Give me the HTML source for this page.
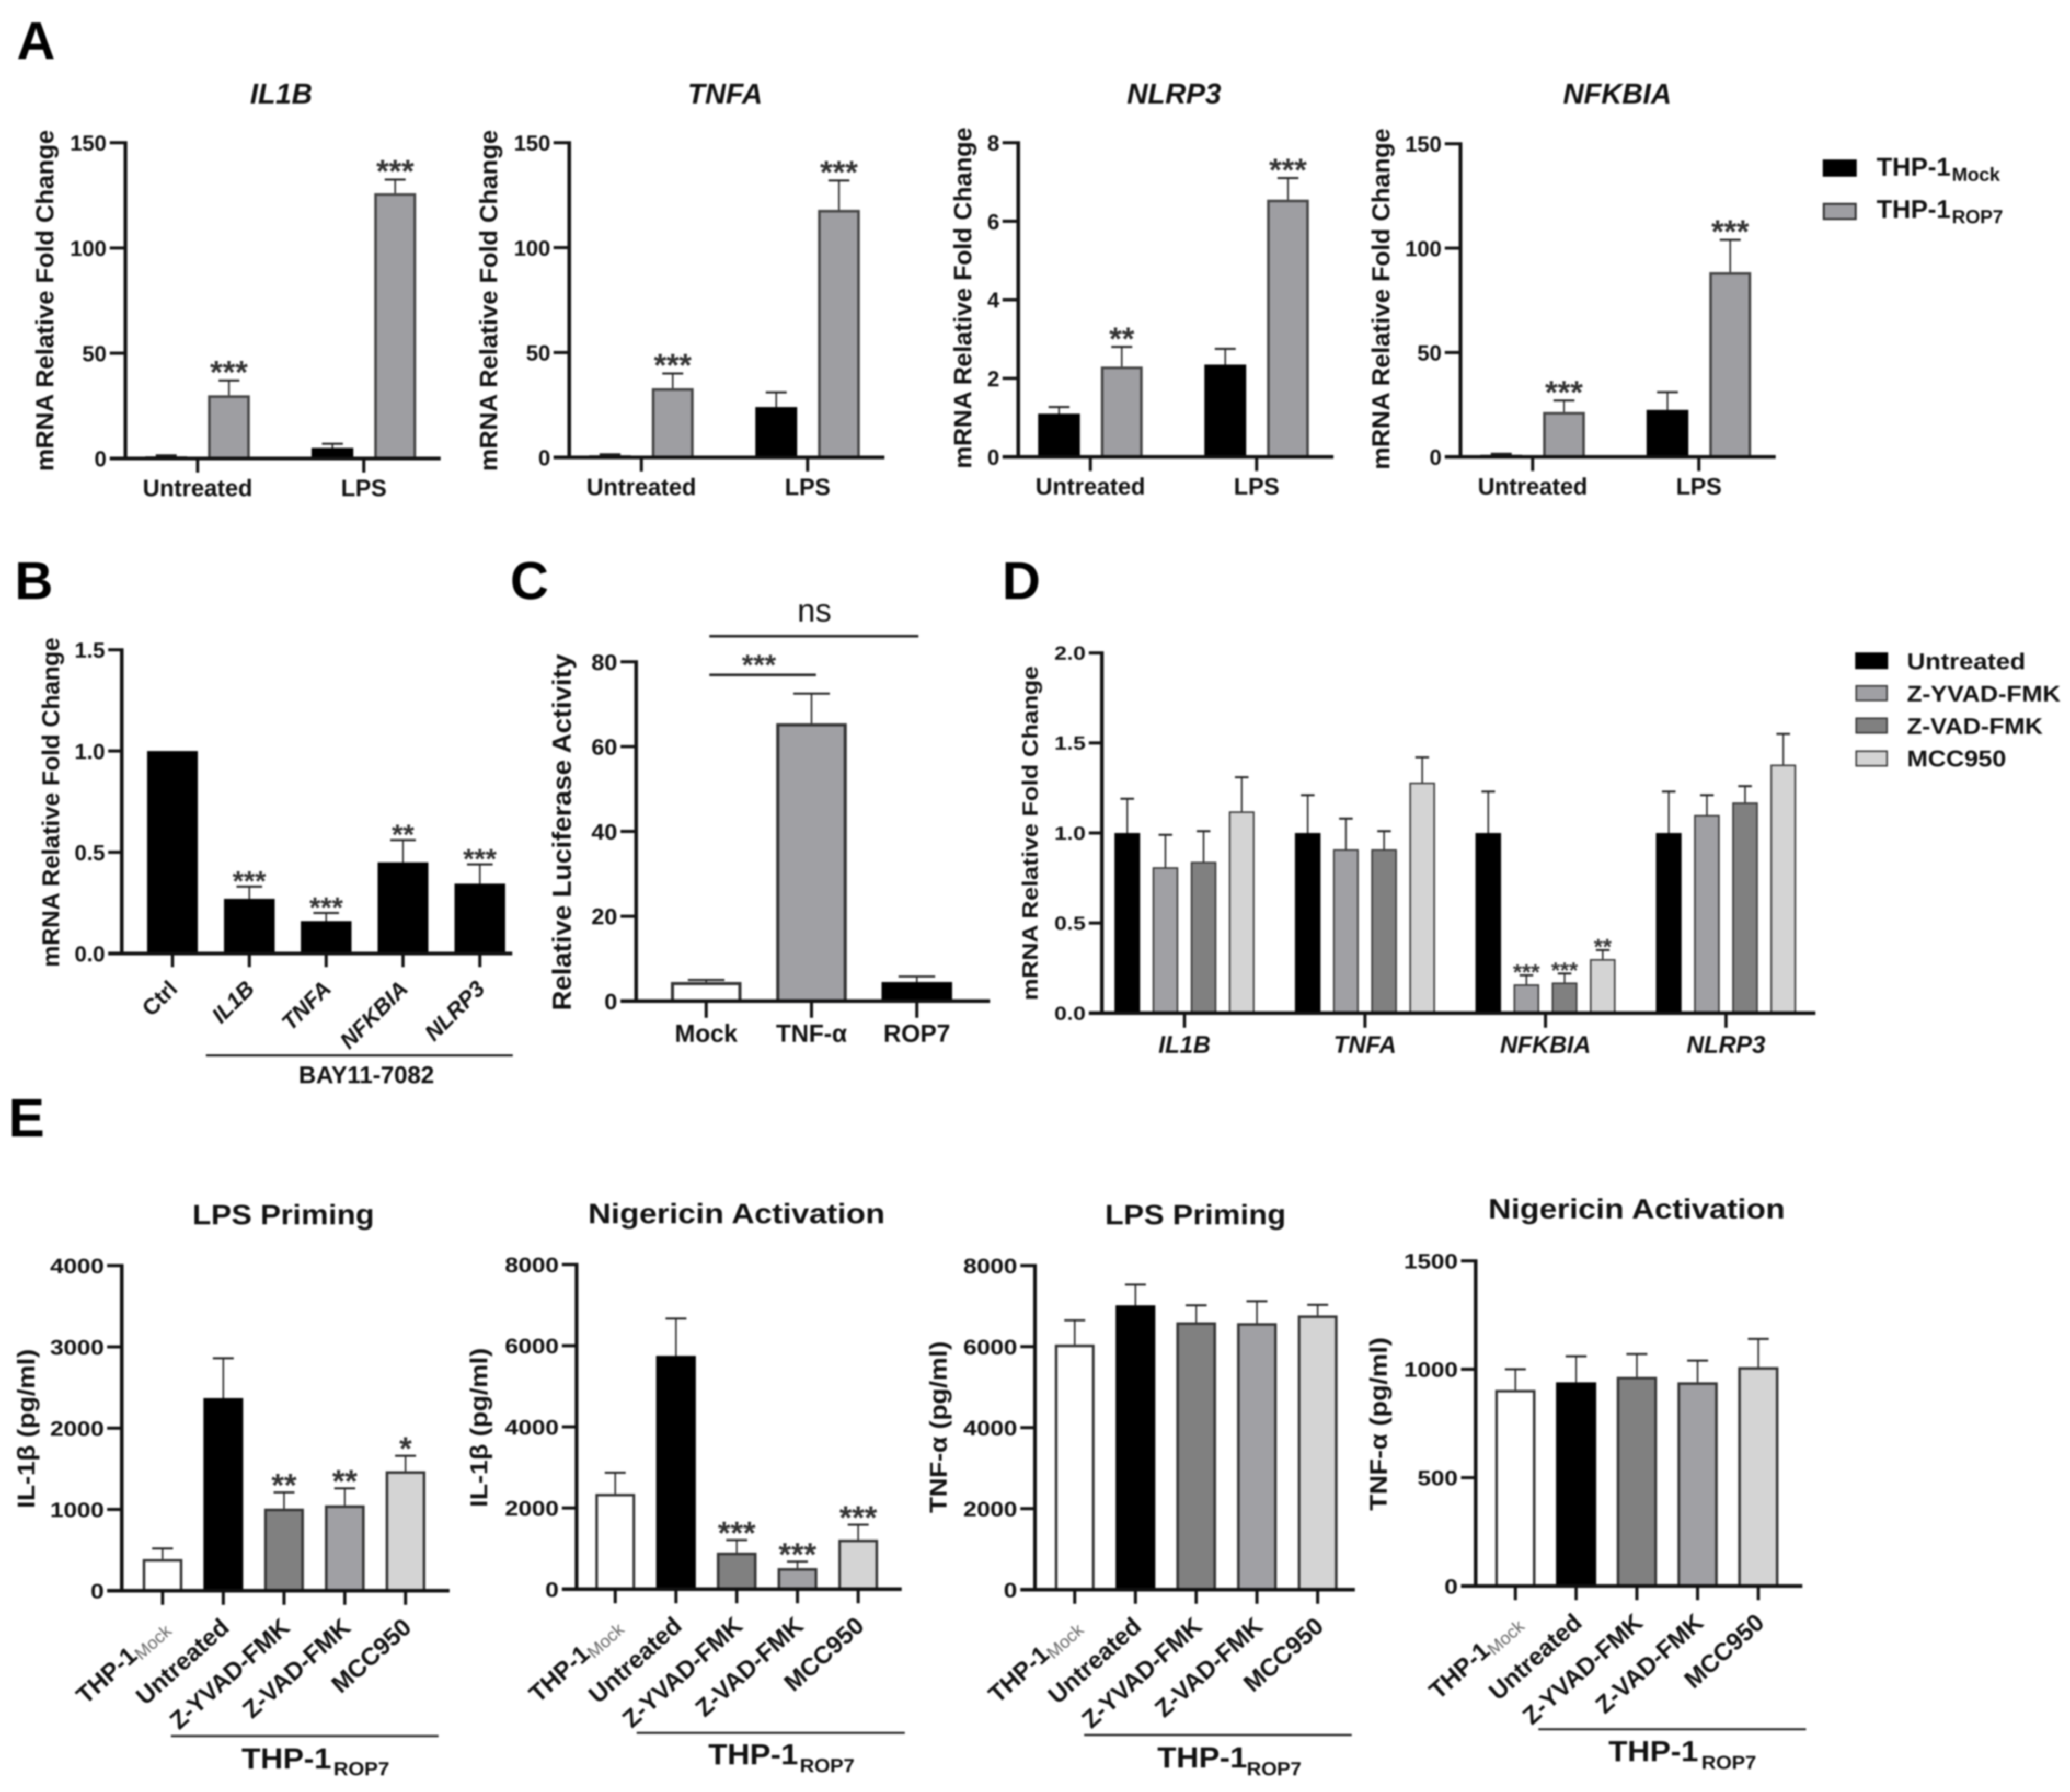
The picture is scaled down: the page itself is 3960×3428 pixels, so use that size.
<!DOCTYPE html>
<html lang="en">
<head>
<meta charset="utf-8">
<title>Panel figure: mRNA fold change, luciferase activity and cytokine levels</title>
<style>
html,body{margin:0;padding:0;background:#fff;width:3960px;height:3428px;overflow:hidden}
svg{display:block;filter:blur(1.5px)}
text{font-family:"Liberation Sans","DejaVu Sans",sans-serif;font-weight:bold;fill:#111}
</style>
</head>
<body>
<svg id="figure" xmlns="http://www.w3.org/2000/svg" width="3960" height="3428" viewBox="0 0 3960 3428">
<rect width="3960" height="3428" fill="#fff"/>

<text x="32" y="113" font-size="102" style="fill:#000">A</text>
<text x="28" y="1146" font-size="102" style="fill:#000">B</text>
<text x="976" y="1146" font-size="102" style="fill:#000">C</text>
<text x="1917" y="1146" font-size="102" style="fill:#000">D</text>
<text x="16" y="2174" font-size="104" style="fill:#000">E</text>

<text x="538" y="198" font-size="55" font-style="italic" text-anchor="middle">IL1B</text>
<text x="1387" y="198" font-size="55" font-style="italic" text-anchor="middle">TNFA</text>
<text x="2246" y="198" font-size="55" font-style="italic" text-anchor="middle">NLRP3</text>
<text x="3094" y="198" font-size="55" font-style="italic" text-anchor="middle">NFKBIA</text>

<text transform="translate(102,575) rotate(-90)" font-size="47" text-anchor="middle" textLength="653" lengthAdjust="spacingAndGlyphs">mRNA Relative Fold Change</text>
<text transform="translate(951,575) rotate(-90)" font-size="47" text-anchor="middle" textLength="653" lengthAdjust="spacingAndGlyphs">mRNA Relative Fold Change</text>
<text transform="translate(1858,570) rotate(-90)" font-size="47" text-anchor="middle" textLength="653" lengthAdjust="spacingAndGlyphs">mRNA Relative Fold Change</text>
<text transform="translate(2658,572) rotate(-90)" font-size="47" text-anchor="middle" textLength="653" lengthAdjust="spacingAndGlyphs">mRNA Relative Fold Change</text>

<g>
  <rect x="3487" y="305" width="65" height="33" fill="#000"/>
  <text x="3590" y="336" font-size="49">THP-1</text>
  <text x="3734" y="346" font-size="36">Mock</text>
  <rect x="3489" y="390" width="61" height="29" fill="#9e9ea2" stroke="#333" stroke-width="4"/>
  <text x="3590" y="417" font-size="49">THP-1</text>
  <text x="3734" y="427" font-size="36">ROP7</text>
</g>

<text transform="translate(113,1535) rotate(-90)" font-size="46" text-anchor="middle" textLength="631" lengthAdjust="spacingAndGlyphs">mRNA Relative Fold Change</text>
<line x1="394" x2="981" y1="2019" y2="2019" stroke="#111" stroke-width="4"/>
<text x="701" y="2072" font-size="46" text-anchor="middle">BAY11-7082</text>

<text transform="translate(1092,1592) rotate(-90)" font-size="50" text-anchor="middle" textLength="682" lengthAdjust="spacingAndGlyphs">Relative Luciferase Activity</text>
<text x="1558" y="1189" font-size="62" text-anchor="middle" style="font-weight:normal">ns</text>
<line x1="1357" x2="1757" y1="1217" y2="1217" stroke="#222" stroke-width="5"/>
<text x="1452" y="1291" font-size="56" text-anchor="middle" style="fill:#333">***</text>
<line x1="1357" x2="1561" y1="1291" y2="1291" stroke="#222" stroke-width="5"/>

<text transform="translate(1985,1594) rotate(-90)" font-size="42" text-anchor="middle" textLength="640" lengthAdjust="spacingAndGlyphs">mRNA Relative Fold Change</text>
<g>
  <rect x="3549" y="1248" width="63" height="32" fill="#000"/>
  <text x="3648" y="1280" font-size="44" textLength="227" lengthAdjust="spacingAndGlyphs">Untreated</text>
  <rect x="3551" y="1312" width="59" height="28" fill="#a0a0a4" stroke="#333" stroke-width="3"/>
  <text x="3648" y="1342" font-size="44" textLength="294" lengthAdjust="spacingAndGlyphs">Z-YVAD-FMK</text>
  <rect x="3551" y="1374" width="59" height="28" fill="#808080" stroke="#333" stroke-width="3"/>
  <text x="3648" y="1404" font-size="44" textLength="260" lengthAdjust="spacingAndGlyphs">Z-VAD-FMK</text>
  <rect x="3551" y="1437" width="59" height="28" fill="#d4d4d4" stroke="#333" stroke-width="3"/>
  <text x="3648" y="1466" font-size="44" textLength="190" lengthAdjust="spacingAndGlyphs">MCC950</text>
</g>

<text x="542" y="2342" font-size="54" text-anchor="middle" textLength="348" lengthAdjust="spacingAndGlyphs">LPS Priming</text>
<text x="1409" y="2340" font-size="54" text-anchor="middle" textLength="568" lengthAdjust="spacingAndGlyphs">Nigericin Activation</text>
<text x="2287" y="2342" font-size="54" text-anchor="middle" textLength="346" lengthAdjust="spacingAndGlyphs">LPS Priming</text>
<text x="3131" y="2331" font-size="54" text-anchor="middle" textLength="568" lengthAdjust="spacingAndGlyphs">Nigericin Activation</text>

<text transform="translate(66,2733) rotate(-90)" font-size="46" text-anchor="middle" textLength="305" lengthAdjust="spacingAndGlyphs">IL-1β (pg/ml)</text>
<text transform="translate(932,2731) rotate(-90)" font-size="46" text-anchor="middle" textLength="305" lengthAdjust="spacingAndGlyphs">IL-1β (pg/ml)</text>
<text transform="translate(1811,2730) rotate(-90)" font-size="46" text-anchor="middle" textLength="329" lengthAdjust="spacingAndGlyphs">TNF-α (pg/ml)</text>
<text transform="translate(2653,2724) rotate(-90)" font-size="46" text-anchor="middle" textLength="332" lengthAdjust="spacingAndGlyphs">TNF-α (pg/ml)</text>

<g>
  <line x1="327" x2="839" y1="3321" y2="3321" stroke="#222" stroke-width="4"/>
  <text x="462" y="3383" font-size="56" textLength="172" lengthAdjust="spacingAndGlyphs">THP-1</text>
  <text x="638" y="3396" font-size="36" textLength="107" lengthAdjust="spacingAndGlyphs">ROP7</text>
</g>
<g>
  <line x1="1218" x2="1731" y1="3315" y2="3315" stroke="#222" stroke-width="4"/>
  <text x="1355" y="3375" font-size="56" textLength="172" lengthAdjust="spacingAndGlyphs">THP-1</text>
  <text x="1530" y="3390" font-size="36" textLength="105" lengthAdjust="spacingAndGlyphs">ROP7</text>
</g>
<g>
  <line x1="2074" x2="2586" y1="3319" y2="3319" stroke="#222" stroke-width="4"/>
  <text x="2214" y="3381" font-size="56" textLength="172" lengthAdjust="spacingAndGlyphs">THP-1</text>
  <text x="2385" y="3396" font-size="36" textLength="105" lengthAdjust="spacingAndGlyphs">ROP7</text>
</g>
<g>
  <line x1="2943" x2="3455" y1="3308" y2="3308" stroke="#222" stroke-width="4"/>
  <text x="3077" y="3369" font-size="56" textLength="172" lengthAdjust="spacingAndGlyphs">THP-1</text>
  <text x="3255" y="3384" font-size="36" textLength="105" lengthAdjust="spacingAndGlyphs">ROP7</text>
</g>
</svg>

<script>
// ---- Panel A data ----
const aCategories = ['Untreated', 'LPS'];
const il1bTicks = ['0', '50', '100', '150'];
const il1bMock = [1, 5];
const il1bMockErr = [1.5, 7];
const il1bRop7 = [30, 126];
const il1bRop7Err = [37, 132.5];
const il1bStars = ['***', '***'];
const tnfaTicks = ['0', '50', '100', '150'];
const tnfaMock = [1, 24];
const tnfaMockErr = [1.5, 31];
const tnfaRop7 = [33, 118];
const tnfaRop7Err = [40, 132];
const tnfaStars = ['***', '***'];
const nlrp3Ticks = ['0', '2', '4', '6', '8'];
const nlrp3Mock = [1.1, 2.35];
const nlrp3MockErr = [1.27, 2.75];
const nlrp3Rop7 = [2.3, 6.55];
const nlrp3Rop7Err = [2.8, 7.1];
const nlrp3Stars = ['**', '***'];
const nfkbiaTicks = ['0', '50', '100', '150'];
const nfkbiaMock = [1, 22.5];
const nfkbiaMockErr = [1.5, 31];
const nfkbiaRop7 = [21.5, 88.5];
const nfkbiaRop7Err = [27, 104];
const nfkbiaStars = ['***', '***'];

// ---- Panel B data ----
const bCategories = ['Ctrl', 'IL1B', 'TNFA', 'NFKBIA', 'NLRP3'];
const bItalic = [false, true, true, true, true];
const bTicks = ['0.0', '0.5', '1.0', '1.5'];
const bValues = [1, 0.27, 0.16, 0.45, 0.345];
const bErr = [null, 0.33, 0.2, 0.56, 0.44];
const bStars = ['', '***', '***', '**', '***'];

// ---- Panel C data ----
const cCategories = ['Mock', 'TNF-α', 'ROP7'];
const cTicks = ['0', '20', '40', '60', '80'];
const cValues = [4.5, 65.5, 4.5];
const cErr = [5, 72.5, 5.8];

// ---- Panel D data ----
const dCategories = ['IL1B', 'TNFA', 'NFKBIA', 'NLRP3'];
const dTicks = ['0.0', '0.5', '1.0', '1.5', '2.0'];
const dUntreated = [1, 1, 1, 1];
const dUntreatedErr = [1.19, 1.21, 1.23, 1.23];
const dZyvad = [0.81, 0.91, 0.16, 1.1];
const dZyvadErr = [0.99, 1.08, 0.21, 1.21];
const dZvad = [0.84, 0.91, 0.17, 1.17];
const dZvadErr = [1.01, 1.01, 0.22, 1.26];
const dMcc = [1.12, 1.28, 0.3, 1.38];
const dMccErr = [1.31, 1.42, 0.35, 1.55];
const dZyvadStars = ['', '', '***', ''];
const dZvadStars = ['', '', '***', ''];
const dMccStars = ['', '', '**', ''];

// ---- Panel E data ----
const eCategories = ['THP-1|Mock', 'Untreated', 'Z-YVAD-FMK', 'Z-VAD-FMK', 'MCC950'];
const e1Ticks = ['0', '1000', '2000', '3000', '4000'];
const e1Values = [390, 2370, 1010, 1050, 1470];
const e1Err = [520, 2860, 1210, 1260, 1660];
const e1Stars = ['', '', '**', '**', '*'];
const e2Ticks = ['0', '2000', '4000', '6000', '8000'];
const e2Values = [2350, 5750, 900, 520, 1220];
const e2Err = [2870, 6670, 1210, 680, 1590];
const e2Stars = ['', '', '***', '***', '***'];
const e3Ticks = ['0', '2000', '4000', '6000', '8000'];
const e3Values = [6050, 7020, 6600, 6580, 6770];
const e3Err = [6650, 7530, 7020, 7120, 7030];
const e4Ticks = ['0', '500', '1000', '1500'];
const e4Values = [905, 940, 965, 940, 1010];
const e4Err = [1000, 1060, 1070, 1040, 1140];

// ---- Drawing ----
const SVG_NS = 'http://www.w3.org/2000/svg';
const root = document.getElementById('figure');

function make(parent, tag, attrs) {
  const node = document.createElementNS(SVG_NS, tag);
  for (const k in attrs) node.setAttribute(k, attrs[k]);
  parent.appendChild(node);
  return node;
}

function drawChart(id, cfg) {
  const g = make(root, 'g', {});
  
  

  const maxV = Number(cfg.ticks[cfg.ticks.length - 1]);
  const yScale = v => cfg.y0 - (v / maxV) * (cfg.y0 - cfg.yTop);
  const xScale = i => cfg.x0 + i * cfg.step;
  const count = cfg.series.length;

  // bars, error bars and significance marks
  cfg.series.forEach((s, j) => {
    const offset = (j - (count - 1) / 2) * (cfg.barGap || 0);
    s.values.forEach((v, i) => {
      const cx = xScale(i) + offset;
      const sw = cfg.barStroke;
      const fill = s.fills ? s.fills[i] : s.fill;
      const top = yScale(v);
      if (s.err && s.err[i] !== null) {
        const ey = yScale(s.err[i]);
        const ebar = make(g, 'line', {x1: cx, x2: cx, y1: top, y2: ey, stroke: '#222', 'stroke-width': cfg.errStroke});
        
        
        const cap = make(g, 'line', {x1: cx - cfg.capW / 2, x2: cx + cfg.capW / 2, y1: ey, y2: ey, stroke: '#222', 'stroke-width': cfg.errStroke + 1});
        
        
      }
      const bar = make(g, 'rect', {
        x: cx - cfg.barW / 2 + sw / 2,
        y: top + sw / 2,
        width: cfg.barW - sw,
        height: Math.max(0, cfg.y0 - top - sw / 2),
        fill: fill,
        stroke: fill === '#000' ? '#000' : cfg.barEdge,
        'stroke-width': sw
      });
      
      
      if (s.stars && s.stars[i]) {
        const anchorV = s.err && s.err[i] !== null ? s.err[i] : v;
        const star = make(g, 'text', {
          x: cx, y: yScale(anchorV) - cfg.starGap + 0.56 * cfg.starFs,
          'font-size': cfg.starFs, 'text-anchor': 'middle', style: 'fill:#333'
        });
        star.textContent = s.stars[i];
        
        
      }
    });
  });

  // y axis
  const yAxis = make(g, 'line', {x1: cfg.axisX, x2: cfg.axisX, y1: cfg.yTop - 3, y2: cfg.y0 + 3, stroke: '#111', 'stroke-width': cfg.axisW});
  
  
  cfg.ticks.forEach(t => {
    const yy = yScale(Number(t));
    const tm = make(g, 'line', {x1: cfg.axisX - cfg.tickLen, x2: cfg.axisX, y1: yy, y2: yy, stroke: '#111', 'stroke-width': cfg.axisW - 1});
    
    
    const lab = make(g, 'text', {
      x: cfg.axisX - cfg.tickLen - 6, y: yy + 0.36 * cfg.tickFs,
      'font-size': cfg.tickFs, 'text-anchor': 'end',
      textLength: t.replace('.', '').length * 0.556 * cfg.tickFs * cfg.tickStretch + (t.includes('.') ? 0.278 * cfg.tickFs * cfg.tickStretch : 0),
      lengthAdjust: 'spacingAndGlyphs'
    });
    lab.textContent = t;
    
    
  });

  // x axis
  const xAxis = make(g, 'line', {x1: cfg.axisX - cfg.tickLen, x2: cfg.xEnd, y1: cfg.y0, y2: cfg.y0, stroke: '#111', 'stroke-width': cfg.axisW});
  
  
  cfg.categories.forEach((c, i) => {
    const xx = xScale(i);
    const tm = make(g, 'line', {x1: xx, x2: xx, y1: cfg.y0, y2: cfg.y0 + cfg.xTickLen, stroke: '#111', 'stroke-width': cfg.axisW - 1});
    
    
    const parts = c.split('|');
    const attrs = {'font-size': cfg.labelFs, 'text-anchor': cfg.rotate ? 'end' : 'middle'};
    if (cfg.italic && cfg.italic[i]) attrs['font-style'] = 'italic';
    if (cfg.rotate) {
      attrs.transform = 'translate(' + (xx + cfg.rotate.dx) + ',' + (cfg.y0 + cfg.rotate.dy) + ') rotate(' + cfg.rotate.angle + ')';
    } else {
      attrs.x = xx;
      attrs.y = cfg.y0 + cfg.labelDy;
    }
    const lab = make(g, 'text', attrs);
    
    
    lab.appendChild(document.createTextNode(parts[0]));
    if (parts[1]) {
      const sub = make(lab, 'tspan', {dy: 8, 'font-size': cfg.labelFs * 0.72, style: 'font-weight:normal;fill:#666'});
      sub.textContent = parts[1];
    }
  });
}

const panelA = {
  categories: aCategories, step: 318, barW: 80, barGap: 120, barStroke: 5, barEdge: '#444',
  capW: 40, errStroke: 3, starGap: 29, starFs: 62, axisW: 7, tickLen: 30, tickFs: 42, tickStretch: 1,
  xTickLen: 27, labelFs: 45, labelDy: 72
};
function seriesA(mock, mockErr, rop, ropErr, stars) {
  return [
    {values: mock, err: mockErr, fill: '#000'},
    {values: rop, err: ropErr, fill: '#9e9ea2', stars: stars}
  ];
}
drawChart('il1b', Object.assign({}, panelA, {ticks: il1bTicks, axisX: 240, yTop: 273, y0: 877, x0: 378, xEnd: 843,
  series: seriesA(il1bMock, il1bMockErr, il1bRop7, il1bRop7Err, il1bStars)}));
drawChart('tnfa', Object.assign({}, panelA, {ticks: tnfaTicks, axisX: 1089, yTop: 273, y0: 875, x0: 1227, xEnd: 1692,
  series: seriesA(tnfaMock, tnfaMockErr, tnfaRop7, tnfaRop7Err, tnfaStars)}));
drawChart('nlrp3', Object.assign({}, panelA, {ticks: nlrp3Ticks, axisX: 1948, yTop: 273, y0: 874, x0: 2086, xEnd: 2551,
  series: seriesA(nlrp3Mock, nlrp3MockErr, nlrp3Rop7, nlrp3Rop7Err, nlrp3Stars)}));
drawChart('nfkbia', Object.assign({}, panelA, {ticks: nfkbiaTicks, axisX: 2794, yTop: 275, y0: 874, x0: 2932, xEnd: 3397,
  series: seriesA(nfkbiaMock, nfkbiaMockErr, nfkbiaRop7, nfkbiaRop7Err, nfkbiaStars)}));

drawChart('b', {
  categories: bCategories, italic: bItalic, ticks: bTicks, axisX: 233, yTop: 1243, y0: 1824, x0: 330, step: 147, xEnd: 980,
  barW: 97, barStroke: 3, barEdge: '#000', capW: 49, errStroke: 3, starGap: 23, starFs: 55,
  axisW: 7, tickLen: 26, tickFs: 42, tickStretch: 1, xTickLen: 26, labelFs: 43,
  rotate: {dx: 12, dy: 70, angle: -45},
  series: [{values: bValues, err: bErr, fill: '#000', stars: bStars}]
});

drawChart('c', {
  categories: cCategories, ticks: cTicks, axisX: 1217, yTop: 1266, y0: 1915, x0: 1351, step: 201.5, xEnd: 1894,
  barW: 135, barStroke: 6, barEdge: '#333', capW: 70, errStroke: 3, starGap: 25, starFs: 56,
  axisW: 7, tickLen: 30, tickFs: 43, tickStretch: 1.04, xTickLen: 32, labelFs: 47, labelDy: 78,
  series: [{values: cValues, err: cErr, fills: ['#fff', '#a0a0a4', '#000']}]
});

drawChart('d', {
  categories: dCategories, italic: [true, true, true, true], ticks: dTicks, axisX: 2108, yTop: 1249, y0: 1938,
  x0: 2266, step: 345.3, xEnd: 3473, barW: 49, barGap: 73, barStroke: 3, barEdge: '#333',
  capW: 26, errStroke: 3, starGap: 16, starFs: 44, axisW: 7, tickLen: 25, tickFs: 36, tickStretch: 1.2,
  xTickLen: 28, labelFs: 46, labelDy: 76,
  series: [
    {values: dUntreated, err: dUntreatedErr, fill: '#000'},
    {values: dZyvad, err: dZyvadErr, fill: '#a0a0a4', stars: dZyvadStars},
    {values: dZvad, err: dZvadErr, fill: '#808080', stars: dZvadStars},
    {values: dMcc, err: dMccErr, fill: '#d4d4d4', stars: dMccStars}
  ]
});

const panelE = {
  categories: eCategories, step: 116.2, barStroke: 5, barEdge: '#333', capW: 40, errStroke: 3,
  starGap: 27, starFs: 62, axisW: 7, tickLen: 28, tickFs: 40, tickStretch: 1.16, xTickLen: 27,
  labelFs: 47, rotate: {dx: 14, dy: 74, angle: -42}
};
const eFills = ['#fff', '#000', '#808080', '#a0a0a4', '#d4d4d4'];
drawChart('e1', Object.assign({}, panelE, {ticks: e1Ticks, axisX: 233, yTop: 2421, y0: 3043, x0: 311, xEnd: 860, barW: 76,
  series: [{values: e1Values, err: e1Err, fills: eFills, stars: e1Stars}]}));
drawChart('e2', Object.assign({}, panelE, {ticks: e2Ticks, axisX: 1103, yTop: 2419, y0: 3040, x0: 1177, xEnd: 1725, barW: 76,
  series: [{values: e2Values, err: e2Err, fills: eFills, stars: e2Stars}]}));
drawChart('e3', Object.assign({}, panelE, {ticks: e3Ticks, axisX: 1980, yTop: 2421, y0: 3041, x0: 2056, xEnd: 2592, barW: 76,
  series: [{values: e3Values, err: e3Err, fills: eFills}]}));
drawChart('e4', Object.assign({}, panelE, {ticks: e4Ticks, axisX: 2823, yTop: 2412, y0: 3034, x0: 2899, xEnd: 3448, barW: 77,
  series: [{values: e4Values, err: e4Err, fills: eFills}]}));
</script>
</body>
</html>
